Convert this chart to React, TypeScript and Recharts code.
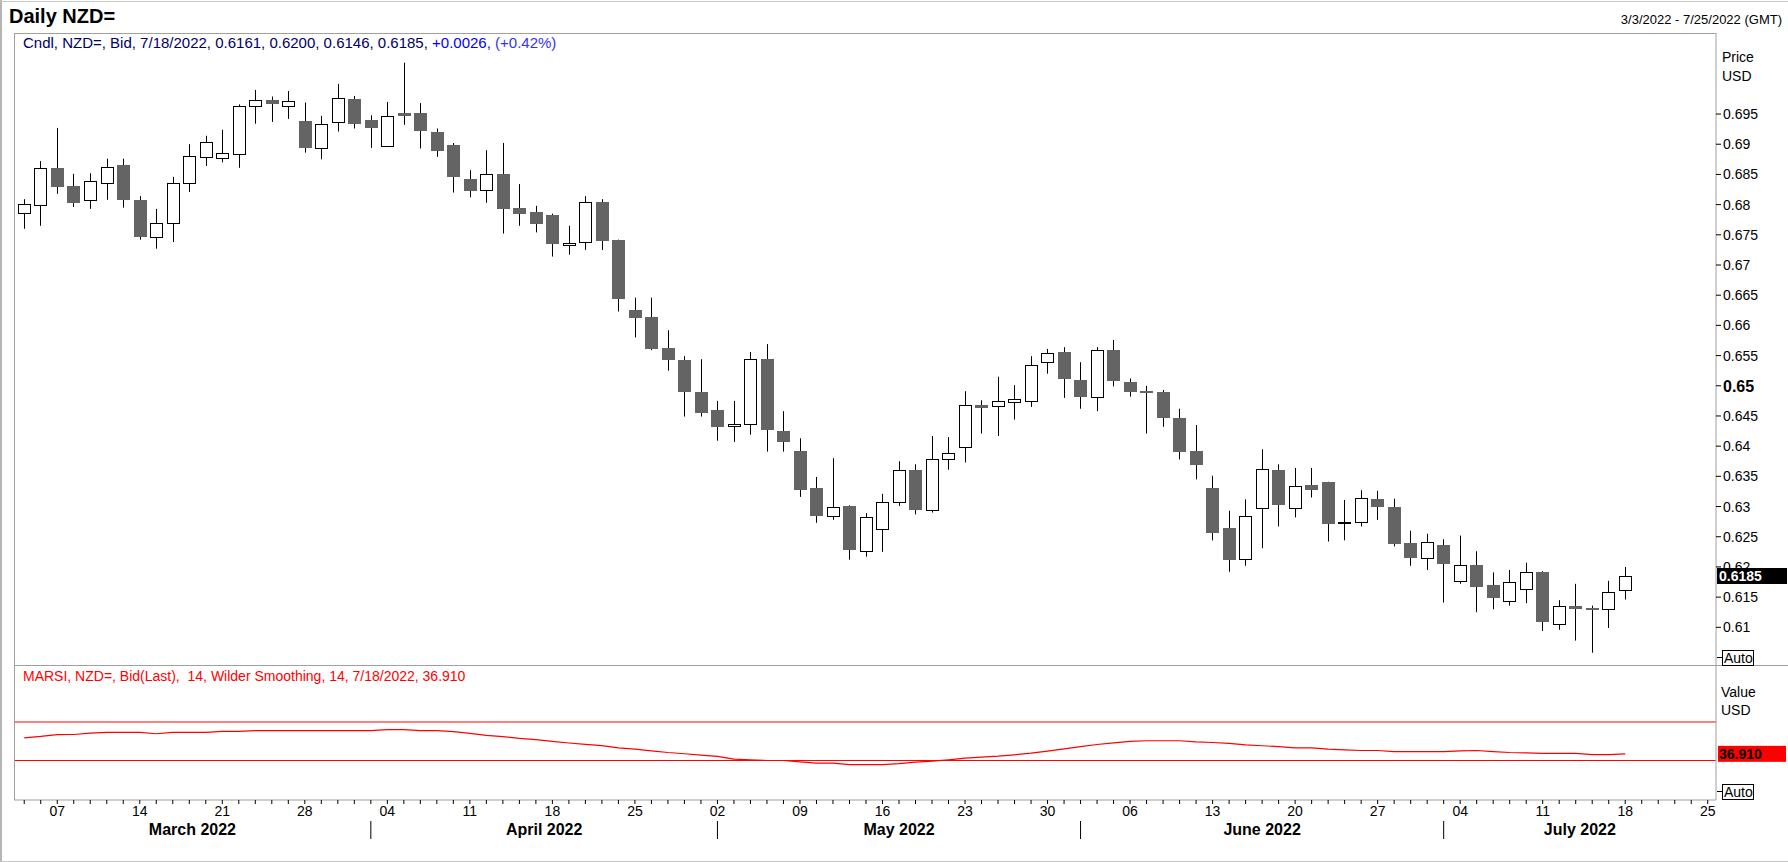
import React from "react";
import { Bar, ComposedChart, Line, ReferenceLine, XAxis, YAxis } from "recharts";

// trading days, 3 Mar 2022 .. 25 Jul 2022 (axis runs one week past the last candle)
const marchDays = [3, 4, 7, 8, 9, 10, 11, 14, 15, 16, 17, 18, 21, 22, 23, 24, 25, 28, 29, 30, 31];
const aprilDays = [1, 4, 5, 6, 7, 8, 11, 12, 13, 14, 15, 18, 19, 20, 21, 22, 25, 26, 27, 28, 29];
const mayDays = [2, 3, 4, 5, 6, 9, 10, 11, 12, 13, 16, 17, 18, 19, 20, 23, 24, 25, 26, 27, 30, 31];
const juneDays = [1, 2, 3, 6, 7, 8, 9, 10, 13, 14, 15, 16, 17, 20, 21, 22, 23, 24, 27, 28, 29, 30];
const julyDays = [1, 4, 5, 6, 7, 8, 11, 12, 13, 14, 15, 18, 19, 20, 21, 22, 25];
const monthNames = ["March 2022", "April 2022", "May 2022", "June 2022", "July 2022"];

const opens = [
  0.6786, 0.6799, 0.6861, 0.6831, 0.6807, 0.6835, 0.6865, 0.6807, 0.6746, 0.6769,
  0.6836, 0.6879, 0.6877, 0.6883, 0.6963, 0.6973, 0.6964, 0.6939, 0.6893, 0.6936,
  0.6975, 0.694, 0.6897, 0.6952, 0.6952, 0.692, 0.6899, 0.6842, 0.6825, 0.6851,
  0.6794, 0.6788, 0.6783, 0.6733, 0.6738, 0.6804, 0.6741, 0.6625, 0.6614, 0.6562,
  0.6543, 0.649, 0.646, 0.6433, 0.6436, 0.6544, 0.6425, 0.6392, 0.6331, 0.6284,
  0.6301, 0.6226, 0.6262, 0.6307, 0.636, 0.6294, 0.6378, 0.6398, 0.6468, 0.6466,
  0.6473, 0.6474, 0.6539, 0.6556, 0.651, 0.6481, 0.6559, 0.6506, 0.6491, 0.6489,
  0.6447, 0.6392, 0.6331, 0.6264, 0.6213, 0.6297, 0.6361, 0.6298, 0.6336, 0.6341,
  0.6274, 0.6274, 0.6313, 0.6299, 0.624, 0.6214, 0.6236, 0.6176, 0.6203, 0.617,
  0.6143, 0.6163, 0.6192, 0.6105, 0.6135, 0.6132, 0.613, 0.6161,
];
const highs = [
  0.6809, 0.6872, 0.6927, 0.6851, 0.6852, 0.6876, 0.6876, 0.6814, 0.6793, 0.6846,
  0.69, 0.6914, 0.6924, 0.6966, 0.699, 0.6979, 0.6988, 0.6969, 0.6947, 0.7,
  0.698, 0.6948, 0.697, 0.7035, 0.6968, 0.6926, 0.6902, 0.6857, 0.689, 0.6902,
  0.6834, 0.6798, 0.6785, 0.6765, 0.6814, 0.6809, 0.6742, 0.6646, 0.6646, 0.6592,
  0.6549, 0.6544, 0.6475, 0.6475, 0.6556, 0.6569, 0.6458, 0.6413, 0.6349, 0.638,
  0.6302, 0.6289, 0.6321, 0.6375, 0.637, 0.6417, 0.6415, 0.6491, 0.6476, 0.6515,
  0.6501, 0.6549, 0.6561, 0.6564, 0.6539, 0.6564, 0.6576, 0.6512, 0.65, 0.6493,
  0.6462, 0.6435, 0.6351, 0.6293, 0.6312, 0.6395, 0.637, 0.6364, 0.6364, 0.6341,
  0.6311, 0.6327, 0.6326, 0.6313, 0.626, 0.6255, 0.6246, 0.6252, 0.6226, 0.6191,
  0.6195, 0.6207, 0.6193, 0.6145, 0.6172, 0.6136, 0.6177, 0.62,
];
const lows = [
  0.676, 0.6765, 0.6818, 0.6796, 0.6793, 0.6808, 0.6795, 0.6742, 0.6727, 0.6738,
  0.6821, 0.6864, 0.687, 0.6861, 0.6934, 0.6937, 0.6942, 0.6886, 0.6875, 0.6921,
  0.6926, 0.6894, 0.6896, 0.6932, 0.6893, 0.6879, 0.682, 0.6812, 0.6803, 0.6752,
  0.6765, 0.6754, 0.6714, 0.6717, 0.6725, 0.6725, 0.6623, 0.658, 0.6559, 0.6525,
  0.6449, 0.6449, 0.6409, 0.6407, 0.6419, 0.6391, 0.6391, 0.6316, 0.6273, 0.6278,
  0.6212, 0.6217, 0.6225, 0.6301, 0.6287, 0.629, 0.6361, 0.6373, 0.6421, 0.6417,
  0.6444, 0.6465, 0.652, 0.648, 0.6462, 0.6458, 0.6499, 0.6482, 0.6421, 0.6432,
  0.6378, 0.6345, 0.6244, 0.6192, 0.6202, 0.6231, 0.6267, 0.6282, 0.6315, 0.6242,
  0.6244, 0.6267, 0.6278, 0.6234, 0.6202, 0.6195, 0.6141, 0.6172, 0.6125, 0.613,
  0.6136, 0.614, 0.6094, 0.6096, 0.6078, 0.6058, 0.6099, 0.6146,
];
const closes = [
  0.6801, 0.686, 0.683, 0.6803, 0.6839, 0.6862, 0.6807, 0.6746, 0.6769, 0.6835,
  0.688, 0.6903, 0.6885, 0.6963, 0.6974, 0.6966, 0.6971, 0.6894, 0.6933, 0.6976,
  0.6934, 0.6927, 0.6946, 0.6947, 0.6922, 0.6889, 0.6845, 0.6823, 0.685, 0.6793,
  0.6785, 0.6768, 0.6734, 0.6736, 0.6804, 0.674, 0.6644, 0.6613, 0.6561, 0.6543,
  0.6489, 0.6455, 0.6431, 0.6436, 0.6544, 0.6426, 0.6407, 0.6328, 0.6285, 0.6299,
  0.6228, 0.6282, 0.6307, 0.636, 0.6295, 0.6378, 0.6388, 0.6468, 0.6464, 0.6474,
  0.6478, 0.6534, 0.6554, 0.6512, 0.6482, 0.6559, 0.6508, 0.6489, 0.6489, 0.6446,
  0.6391, 0.6369, 0.6257, 0.6212, 0.6284, 0.6362, 0.6303, 0.6334, 0.6327, 0.6271,
  0.6274, 0.6314, 0.63, 0.6238, 0.6215, 0.6241, 0.6205, 0.6204, 0.6167, 0.6148,
  0.6175, 0.6191, 0.6109, 0.6135, 0.613, 0.6128, 0.6159, 0.6185,
];
const rsiValues = [
  53.6, 55, 56.8, 57, 58.5, 59.2, 59.2, 59.2, 57.8, 59.2,
  59.2, 59.2, 60.2, 60.2, 61, 61, 61, 61, 61, 61,
  61, 61, 62, 62, 61, 61, 60, 58.2, 56.1, 54.8,
  53, 51.6, 49.9, 48.2, 46.8, 45.4, 43.2, 41.8, 40.1, 38.3,
  37, 35.6, 34.2, 31.4, 30.7, 30, 30, 28.6, 27.2, 27.2,
  25.8, 25.8, 25.8, 26.8, 28.3, 29.3, 30.7, 32.4, 33.5, 34.5,
  35.9, 37.6, 39.7, 42.1, 44.5, 46.6, 48.4, 49.8, 50.5, 50.5,
  50.5, 49.4, 48.7, 47.7, 46.3, 45.3, 44.5, 43.2, 43.2, 41.8,
  41.1, 40.4, 40.4, 39.3, 39.3, 39.3, 39.3, 40, 40.4, 39.3,
  38.3, 38, 37.3, 37.3, 37.3, 36.2, 36.2, 36.91,
];
const priceTicks = [
  0.61, 0.615, 0.62, 0.625, 0.63, 0.635, 0.64, 0.645, 0.65, 0.655,
  0.66, 0.665, 0.67, 0.675, 0.68, 0.685, 0.69, 0.695,
];
const rsiBands = [70, 30];
const lastClose = 0.6185;
const lastRsi = 36.91;

const calendar = [marchDays, aprilDays, mayDays, juneDays, julyDays].flatMap((days, m) =>
  days.map((day) => ({ month: m, day, monday: new Date(2022, m + 2, day).getDay() === 1 }))
);
const dayTicks = calendar.map((_, i) => i);
const monthStarts = calendar
  .map((d, i) => (i === 0 || calendar[i - 1].month !== d.month ? i : -1))
  .filter((i) => i >= 0);

const rows = opens.map((open, i) => ({
  idx: i,
  open,
  high: highs[i],
  low: lows[i],
  close: closes[i],
  range: [lows[i], highs[i]],
  rsi: rsiValues[i],
}));

const X_MIN = -0.62;
const X_MAX = 102.5;
const PRICE_DOMAIN = [0.60376, 0.70842];
const RSI_DOMAIN = [-11.04, 129.22];
const FRAME = "#a0a0a0";
const FONT = '"Liberation Sans", Arial, sans-serif';

const separators = monthStarts.slice(1);
const monthCenters = monthStarts.map((s, m) => {
  const start = m === 0 ? X_MIN : s;
  const end = m === monthStarts.length - 1 ? X_MAX : monthStarts[m + 1];
  return (start + end) / 2;
});
const monthAxisTicks = [...separators, ...monthCenters].sort((a, b) => a - b);

function Candle(props: any) {
  const { x, y, width, height, payload } = props;
  if (!payload || height == null || isNaN(y)) return null;
  const { open, close, high, low } = payload;
  const top = Math.min(y, y + height);
  const span = Math.abs(height);
  const toY = (v: number) => top + ((high - v) / (high - low || 1)) * span;
  const left = Math.round(x + width / 2 - 6.5);
  const cx = left + 6.5;
  const bodyTop = Math.round(toY(Math.max(open, close)));
  const bodyBottom = Math.round(toY(Math.min(open, close)));
  const up = close >= open;
  return (
    <g>
      <line x1={cx} x2={cx} y1={toY(high)} y2={toY(low)} stroke="#000" strokeWidth={1} />
      {up ? (
        <rect
          x={left + 0.5}
          y={bodyTop + 0.5}
          width={12}
          height={Math.max(bodyBottom - bodyTop, 1)}
          fill="#fff"
          stroke="#000"
          strokeWidth={1}
        />
      ) : (
        <rect
          x={left}
          y={bodyTop}
          width={13}
          height={Math.max(bodyBottom - bodyTop, 2)}
          fill="#646464"
        />
      )}
    </g>
  );
}

function PriceTick({ x, y, payload }: any) {
  const v = payload.value;
  const bold = Math.abs(v - 0.65) < 1e-9;
  return (
    <text
      x={x}
      y={y}
      dy="0.36em"
      fill="#000"
      fontSize={bold ? 16 : 14}
      fontWeight={bold ? "bold" : "normal"}
    >
      {String(Number(v.toFixed(3)))}
    </text>
  );
}

function MonthTick({ x, y, payload }: any) {
  const v = payload.value;
  if (separators.some((s) => Math.abs(s - v) < 1e-6)) {
    return <line x1={x} x2={x} y1={y + 5} y2={y + 23} stroke="#000" strokeWidth={1} />;
  }
  const m = monthCenters.findIndex((c) => Math.abs(c - v) < 1e-6);
  if (m < 0) return null;
  return (
    <text x={x} y={y + 19} textAnchor="middle" fontSize={16} fontWeight="bold" fill="#000">
      {monthNames[m]}
    </text>
  );
}

function PriceTag({ viewBox }: any) {
  if (!viewBox) return null;
  const x = viewBox.x + viewBox.width + 1;
  const y = viewBox.y;
  return (
    <g>
      <rect x={x} y={y - 8} width={70} height={16} fill="#000" />
      <text x={x + 2} y={y + 5} fill="#fff" fontSize={14} fontWeight="bold">
        {lastClose.toFixed(4)}
      </text>
    </g>
  );
}

function RsiTag({ viewBox }: any) {
  if (!viewBox) return null;
  const x = viewBox.x + viewBox.width + 2;
  const y = viewBox.y;
  return (
    <g>
      <rect x={x} y={y - 8} width={68} height={16} fill="#ff0000" />
      <text x={x + 1} y={y + 5} fill="#000" fontSize={14} fontWeight="bold">
        {lastRsi.toFixed(3)}
      </text>
    </g>
  );
}

function AutoBox({ x, y }: { x: number; y: number }) {
  return (
    <g>
      <line x1={1717} x2={x} y1={y + 7.5} y2={y + 7.5} stroke="#000" />
      <rect x={x + 0.5} y={y + 0.5} width={31} height={15} fill="#fff" stroke="#000" />
      <text x={x + 2} y={y + 13} fontSize={14} fill="#000">
        Auto
      </text>
    </g>
  );
}

export default function App() {
  return (
    <div
      style={{
        position: "absolute",
        left: 0,
        top: 0,
        width: 1788,
        height: 862,
        background: "#fff",
        overflow: "hidden",
        fontFamily: FONT,
      }}
    >
      <div style={{ position: "absolute", left: 0, top: 0 }}>
        <ComposedChart
          width={1788}
          height={665}
          data={rows}
          margin={{ top: 33, right: 0, bottom: 0, left: 14 }}
        >
          <XAxis
            dataKey="idx"
            type="number"
            domain={[X_MIN, X_MAX]}
            ticks={dayTicks}
            interval={0}
            allowDataOverflow
            hide
          />
          <YAxis
            orientation="right"
            width={72}
            domain={PRICE_DOMAIN}
            allowDataOverflow
            ticks={priceTicks}
            interval={0}
            tick={<PriceTick />}
            tickSize={5}
            tickMargin={2}
            tickLine={{ stroke: "#000" }}
            axisLine={{ stroke: FRAME }}
          />
          <Bar dataKey="range" barSize={13} shape={<Candle />} isAnimationActive={false} />
          <ReferenceLine y={lastClose} stroke="none" label={<PriceTag />} />
        </ComposedChart>
      </div>

      <div style={{ position: "absolute", left: 0, top: 665 }}>
        <ComposedChart
          width={1788}
          height={197}
          data={rows}
          margin={{ top: 0, right: 0, bottom: 0, left: 14 }}
        >
          <XAxis
            dataKey="idx"
            type="number"
            domain={[X_MIN, X_MAX]}
            ticks={dayTicks}
            interval={0}
            allowDataOverflow
            height={16}
            tickSize={4}
            tickMargin={2}
            tickLine={{ stroke: "#000" }}
            axisLine={{ stroke: FRAME }}
            tick={{ fill: "#000", fontSize: 14 }}
            tickFormatter={(v: number) => {
              const d = calendar[v];
              return d && d.monday ? String(d.day).padStart(2, "0") : "";
            }}
          />
          <XAxis
            xAxisId="month"
            dataKey="idx"
            type="number"
            domain={[X_MIN, X_MAX]}
            ticks={monthAxisTicks}
            interval={0}
            allowDataOverflow
            height={46}
            tickSize={0}
            tickMargin={0}
            tickLine={false}
            axisLine={false}
            tick={<MonthTick />}
          />
          <YAxis
            orientation="right"
            width={72}
            domain={RSI_DOMAIN}
            allowDataOverflow
            tick={false}
            tickLine={false}
            axisLine={{ stroke: FRAME }}
          />
          {rsiBands.map((b) => (
            <ReferenceLine key={b} y={b} stroke="#ff0000" strokeWidth={1} />
          ))}
          <Line
            dataKey="rsi"
            type="linear"
            stroke="#ff0000"
            strokeWidth={1.2}
            dot={false}
            isAnimationActive={false}
          />
          <ReferenceLine y={lastRsi} stroke="none" label={<RsiTag />} />
        </ComposedChart>
      </div>

      <svg
        width={1788}
        height={862}
        style={{ position: "absolute", left: 0, top: 0, pointerEvents: "none" }}
      >
        <line x1={1} x2={1} y1={0} y2={862} stroke="#b4b4b4" strokeWidth={2} />
        <line x1={0} x2={1788} y1={1.5} y2={1.5} stroke="#c8c8c8" />
        <line x1={0} x2={1788} y1={861.5} y2={861.5} stroke="#c8c8c8" />
        <line x1={14} x2={1716} y1={33.5} y2={33.5} stroke={FRAME} />
        <line x1={14.5} x2={14.5} y1={33} y2={800} stroke={FRAME} />
        <line x1={14} x2={1788} y1={665.5} y2={665.5} stroke={FRAME} />

        <text x={9} y={23} fontSize={20} fontWeight="bold" fill="#000">
          Daily NZD=
        </text>
        <text x={1782} y={24} fontSize={13} textAnchor="end" fill="#000">
          3/3/2022 - 7/25/2022 (GMT)
        </text>
        <text x={23} y={48} fontSize={15} style={{ whiteSpace: "pre" }}>
          <tspan fill="#000066">Cndl, NZD=, Bid, 7/18/2022, 0.6161, 0.6200, 0.6146, 0.6185, </tspan>
          <tspan fill="#0000ff">+0.0026, </tspan>
          <tspan fill="#3333ff">(+0.42%)</tspan>
        </text>
        <text x={23} y={681} fontSize={14} fill="#ff0000" style={{ whiteSpace: "pre" }}>
          MARSI, NZD=, Bid(Last),  14, Wilder Smoothing, 14, 7/18/2022, 36.910
        </text>

        <text x={1722} y={62} fontSize={14} fill="#000">Price</text>
        <text x={1722} y={81} fontSize={14} fill="#000">USD</text>
        <text x={1721} y={697} fontSize={14} fill="#000">Value</text>
        <text x={1721} y={715} fontSize={14} fill="#000">USD</text>
        <AutoBox x={1722} y={650} />
        <AutoBox x={1722} y={784} />
      </svg>
    </div>
  );
}
